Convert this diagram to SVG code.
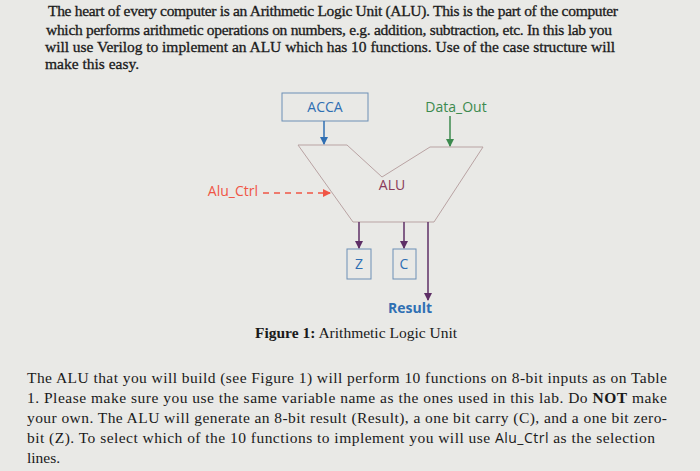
<svg xmlns="http://www.w3.org/2000/svg" width="700" height="471" viewBox="0 0 700 471">
<defs>
<marker id="ab" markerWidth="8" markerHeight="8" refX="7" refY="4" orient="auto" markerUnits="userSpaceOnUse"><path d="M0,0 L8,4 L0,8 z" fill="#2f6fb3"/></marker>
<marker id="ag" markerWidth="8" markerHeight="8" refX="7" refY="4" orient="auto" markerUnits="userSpaceOnUse"><path d="M0,0 L8,4 L0,8 z" fill="#3c8a4e"/></marker>
<marker id="ar" markerWidth="8" markerHeight="8" refX="7" refY="4" orient="auto" markerUnits="userSpaceOnUse"><path d="M0,0 L8,4 L0,8 z" fill="#f05545"/></marker>
<marker id="ap" markerWidth="8" markerHeight="8" refX="7" refY="4" orient="auto" markerUnits="userSpaceOnUse"><path d="M0,0 L8,4 L0,8 z" fill="#5e2f66"/></marker>
</defs>
<style>
.p{font-family:"Liberation Serif",serif;font-size:15.5px;fill:#1a1a1a}
.s{font-family:"Open Sans","DejaVu Sans",sans-serif;font-size:14px}
.box{fill:none;stroke:#6d8fb5;stroke-width:1}
</style>
<rect width="700" height="471" fill="#e9e9e6"/>
<g class="p" font-size="16" stroke="#1a1a1a" stroke-width="0.3">
<text x="48" y="16" textLength="570">The heart of every computer is an Arithmetic Logic Unit (ALU). This is the part of the computer</text>
<text x="46" y="35" textLength="566">which performs arithmetic operations on numbers, e.g. addition, subtraction, etc. In this lab you</text>
<text x="45" y="52" textLength="570">will use Verilog to implement an ALU which has 10 functions. Use of the case structure will</text>
<text x="45" y="69">make this easy.</text>
</g>
<g id="acca"><rect class="box" x="282" y="93" width="86" height="28"/><text class="s" x="325" y="112" text-anchor="middle" fill="#2f6fb3">ACCA</text></g>
<g id="dataout"><text class="s" x="456" y="112" text-anchor="middle" fill="#3c8a4e">Data_Out</text></g>
<g id="alu"><path d="M298,145 L347,145 L382,177 L430,147 L483,147 L434,222 L353,222 Z" fill="none" stroke="#b9a3a3"/><text class="s" x="392" y="190" text-anchor="middle" fill="#8a3b5a">ALU</text></g>
<g id="aluctrl"><text class="s" x="258" y="196" text-anchor="end" fill="#f05545">Alu_Ctrl</text></g>
<g id="z"><rect class="box" x="347" y="249" width="24" height="30"/><text class="s" x="359" y="269" text-anchor="middle" fill="#2f6fb3">Z</text></g>
<g id="c"><rect class="box" x="393" y="249" width="23" height="30"/><text class="s" x="404" y="269" text-anchor="middle" fill="#2f6fb3">C</text></g>
<g id="result"><text class="s" x="410" y="313" text-anchor="middle" fill="#2f6fb3" font-weight="bold">Result</text></g>
<g id="connectors" stroke-width="1.5">
<line x1="324" y1="121" x2="324" y2="144" stroke="#2f6fb3" marker-end="url(#ab)"/>
<line x1="450" y1="116" x2="450" y2="146" stroke="#3c8a4e" marker-end="url(#ag)"/>
<line x1="263" y1="193" x2="330" y2="193" stroke="#f05545" stroke-dasharray="6,5" marker-end="url(#ar)"/>
<line x1="359" y1="222" x2="359" y2="248" stroke="#5e2f66" marker-end="url(#ap)"/>
<line x1="404" y1="222" x2="404" y2="248" stroke="#5e2f66" marker-end="url(#ap)"/>
<line x1="428" y1="222" x2="428" y2="300" stroke="#5e2f66" marker-end="url(#ap)"/>
</g>
<text class="p" x="356" y="338" font-size="16" text-anchor="middle"><tspan font-weight="bold">Figure 1:</tspan> Arithmetic Logic Unit</text>
<g class="p" font-size="17">
<text x="27" y="383" textLength="640">The ALU that you will build (see Figure 1) will perform 10 functions on 8-bit inputs as on Table</text>
<text x="27" y="403" textLength="640">1. Please make sure you use the same variable name as the ones used in this lab. Do <tspan font-weight="bold">NOT</tspan> make</text>
<text x="27" y="423" textLength="640">your own. The ALU will generate an 8-bit result (Result), a one bit carry (C), and a one bit zero-</text>
<text x="27" y="443" textLength="628">bit (Z). To select which of the 10 functions to implement you will use <tspan font-family="Open Sans,sans-serif" font-size="14">Alu_Ctrl</tspan> as the selection</text>
<text x="27" y="463">lines.</text>
</g>
</svg>
